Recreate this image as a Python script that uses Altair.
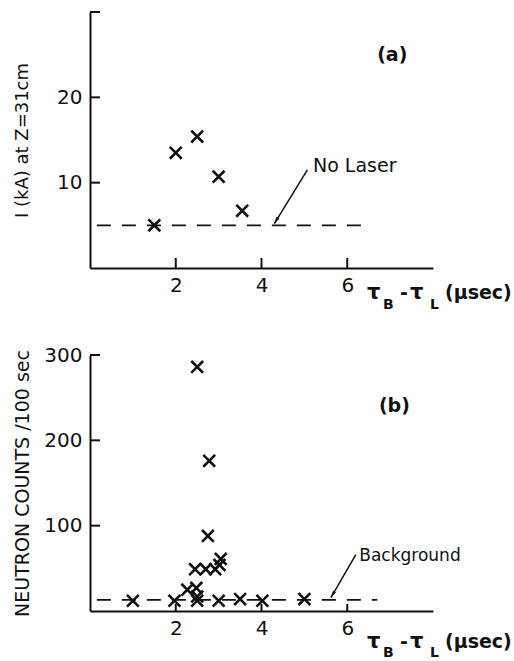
import altair as alt
import pandas as pd

# ---------------- data ----------------
# panel (a): current at Z=31cm vs delay
a_x = [1.5, 2.0, 2.5, 3.0, 3.55]
a_y = [5.0, 13.5, 15.4, 10.7, 6.7]
a_line_x = [0.16, 6.4]
a_line_y = [5.0, 5.0]
a_arrow_x = [5.07, 4.3]
a_arrow_y = [11.5, 5.2]
a_label = "No Laser"
a_label_x, a_label_y = 5.2, 11.9
a_tag, a_tag_x, a_tag_y = "(a)", 7.05, 25.0

# panel (b): neutron counts vs delay
b_x = [1.0, 1.97, 2.27, 2.48, 2.5, 2.5, 2.5, 2.78, 2.75, 2.45, 2.7, 2.92, 3.02, 3.05, 3.0, 3.5, 4.02, 5.0]
b_y = [12, 12, 25, 27, 17, 12, 286, 176, 88, 49, 49, 49, 54, 61, 12, 14, 12, 14]
b_line_x = [0.16, 6.7]
b_line_y = [13.0, 13.0]
b_arrow_x = [6.2, 5.62]
b_arrow_y = [66.0, 15.7]
b_label = "Background"
b_label_x, b_label_y = 6.28, 64.0
b_tag, b_tag_x, b_tag_y = "(b)", 7.1, 240.0

x_ticks = [2, 4, 6]
a_yticks = [10, 20, 30]
a_ylabels = [10, 20]
b_yticks = [100, 200, 300]
b_ylabels = [100, 200, 300]

# ---------------- style ----------------
FONT = "DejaVu Sans"
INK = "#111111"
W, H = 343, 256
X_SHAPE = "M-1,-1L1,1M1,-1L-1,1"
HEAD = "M0,0L-0.5,-2L0.5,-2Z"


def panel(px, py, ydom, ylabels, yticks, ytitle, ytitle_size,
          lx, ly, ax_, ay_, head_angle, label, label_size, labx, laby, tag, tagx, tagy,
          xtick_len, ttl_y, sub_y):
    xs = alt.Scale(domain=[0, 8], nice=False, zero=False)
    ys = alt.Scale(domain=ydom, nice=False, zero=True)
    xax = alt.Axis(values=x_ticks, ticks=False, grid=False, domainColor=INK,
                   domainWidth=2, labelFont=FONT, labelFontSize=20, labelColor=INK,
                   labelPadding=7, title=None, format="d")
    yax = alt.Axis(values=ylabels, ticks=False, grid=False, domainColor=INK,
                   domainWidth=2, labelFont=FONT, labelFontSize=20, labelColor=INK,
                   labelPadding=8, format="d", title=ytitle, titleFont=FONT,
                   titleFontSize=ytitle_size, titleFontWeight="normal",
                   titleColor=INK, titleX=-68, titleY=H / 2,
                   titleAlign="center", titleBaseline="middle")
    X = lambda f: alt.X(f, scale=xs, axis=xax)
    Y = lambda f: alt.Y(f, scale=ys, axis=yax)

    pts = alt.Chart(pd.DataFrame({"x": px, "y": py})).mark_point(
        shape=X_SHAPE, size=140, filled=False, strokeWidth=2.6, color=INK, opacity=1
    ).encode(x=X("x:Q"), y=Y("y:Q"))

    dash = alt.Chart(pd.DataFrame({"x": lx, "y": ly})).mark_line(
        strokeDash=[14, 11], strokeWidth=1.9, color=INK
    ).encode(x=X("x:Q"), y=Y("y:Q"))

    arrow = alt.Chart(pd.DataFrame({"x": ax_, "y": ay_})).mark_line(
        strokeWidth=1.5, color=INK
    ).encode(x=X("x:Q"), y=Y("y:Q"))

    head = alt.Chart(pd.DataFrame({"x": [ax_[1]], "y": [ay_[1]]})).mark_point(
        shape=HEAD, size=49, filled=True, color=INK, opacity=1, angle=head_angle
    ).encode(x=X("x:Q"), y=Y("y:Q"))

    lab = alt.Chart(pd.DataFrame({"x": [labx], "y": [laby], "t": [label]})).mark_text(
        align="left", baseline="middle", font=FONT, fontSize=label_size, color=INK
    ).encode(x=X("x:Q"), y=Y("y:Q"), text="t:N")

    tg = alt.Chart(pd.DataFrame({"x": [tagx], "y": [tagy], "t": [tag]})).mark_text(
        align="center", baseline="middle", font=FONT, fontSize=19, fontWeight="bold",
        color=INK
    ).encode(x=X("x:Q"), y=Y("y:Q"), text="t:N")

    yt = alt.Chart(pd.DataFrame({"v": yticks})).mark_rule(
        strokeWidth=2, color=INK
    ).encode(y=Y("v:Q"), x=alt.value(0), x2=alt.value(10))

    xt = alt.Chart(pd.DataFrame({"v": x_ticks})).mark_rule(
        strokeWidth=2, color=INK
    ).encode(x=X("v:Q"), y=alt.value(H), y2=alt.value(H - xtick_len))

    # x-axis title  tau_B - tau_L (μsec), with subscripts
    pieces = [("τ", 277, ttl_y, 21), ("B", 293, sub_y, 14), ("-", 310, ttl_y, 19),
              ("τ", 320, ttl_y, 21), ("L", 340, sub_y, 14), ("(μsec)", 355, ttl_y, 19)]
    ttl = []
    for txt, tx, ty, fs in pieces:
        ttl.append(alt.Chart(pd.DataFrame({"t": [txt]})).mark_text(
            align="left", baseline="middle", font=FONT, fontSize=fs,
            fontWeight="bold", color=INK
        ).encode(text="t:N", x=alt.value(tx), y=alt.value(ty)))

    return alt.layer(pts, dash, arrow, head, lab, tg, yt, xt, *ttl).properties(
        width=W, height=H)


pa = panel(a_x, a_y, [0, 30], a_ylabels, a_yticks, "I (kA) at Z=31cm", 18,
           a_line_x, a_line_y, a_arrow_x, a_arrow_y, 31, a_label, 19, a_label_x, a_label_y,
           a_tag, a_tag_x, a_tag_y, 10, 281, 293)
pb = panel(b_x, b_y, [0, 300], b_ylabels, b_yticks, "NEUTRON COUNTS /100 sec", 19,
           b_line_x, b_line_y, b_arrow_x, b_arrow_y, 30, b_label, 17, b_label_x, b_label_y,
           b_tag, b_tag_x, b_tag_y, 7, 287, 298)

chart = alt.vconcat(pa, pb, spacing=87, bounds="flush").properties(
    padding={"left": 12, "top": 11, "right": 0, "bottom": 0},
    background="white",
).configure_view(stroke=None)

chart.save("out.html", embed_options={"renderer": "svg", "actions": False})
